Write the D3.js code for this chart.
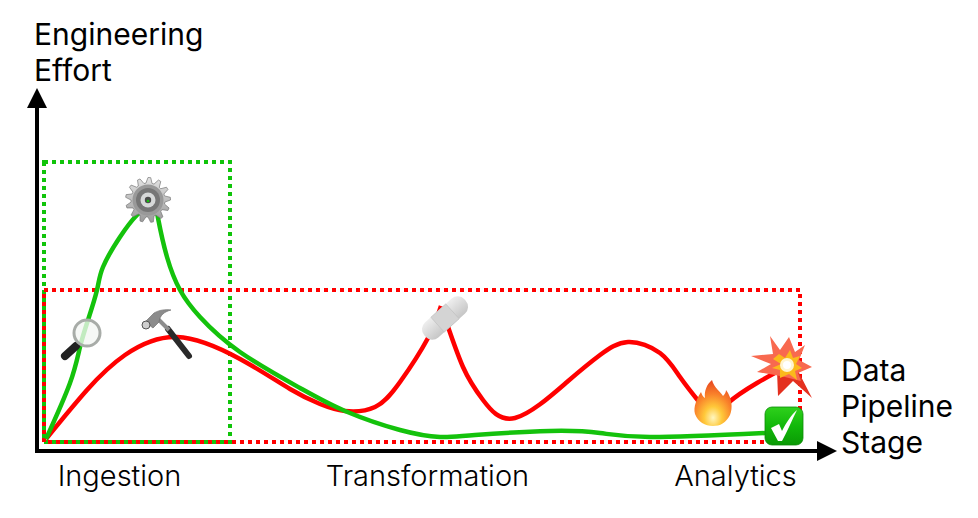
<!DOCTYPE html>
<html>
<head>
<meta charset="utf-8">
<script src="https://cdn.jsdelivr.net/npm/d3@7"></script>
<style>
  html, body { margin: 0; padding: 0; background: #fff; }
  svg { display: block; }
  text { font-family: Inter, Lato, sans-serif; fill: #000; }
</style>
</head>
<body>
<div id="plot"></div>
<script>
// pipeline stages along the bottom
const stages = ["Ingestion", "Transformation", "Analytics"];

// red curve. it has sharp corners under the bandage and the fire
// so it is kept in three pieces
const redStageA = [9, 50, 88, 140, 203, 253, 283, 308, 338, 363, 391, 404];
const redEffortA = [12, 61, 96, 114, 92, 62, 47, 40, 44, 69, 113, 145];
const redStageB = [406, 426, 446, 478, 530, 563, 591, 623, 643, 663, 677];
const redEffortB = [139, 84, 51, 33, 69, 96, 109, 98, 74, 48, 31];
const redStageC = [677, 691, 720, 753];
const redEffortC = [31, 48, 68, 86];

// green curve, same idea with the corner under the gear
const greenStageA = [9, 33, 43, 51, 60, 66, 83, 100, 113];
const greenEffortA = [12, 68, 104, 131, 161, 184, 214, 236, 246];
const greenStageB = [116, 121, 130, 143, 163, 203, 263, 308, 363, 403, 438, 513, 563, 613, 728];
const greenEffortB = [262, 233, 194, 161, 134, 99, 63, 40, 21, 14, 16, 20, 18, 14, 18];

// dotted boxes [x0, x1, y0, y1]
const greenBox = [7, 193, 9, 289];
const redBox = [7, 763, 9, 161];

// where the icons sit on the curves
const iconNames = ["lens", "gear", "hammer", "bandage", "fire", "boom", "check"];
const iconStage = [50, 111, 125, 408, 676, 750, 747];
const iconEffort = [118, 251, 112, 133, 47, 84, 25];

const w = 978;
const h = 518;

const svg = d3.select("#plot")
    .append("svg")
    .attr("width", w)
    .attr("height", h);

const xScale = d3.scaleLinear().domain([0, 800]).range([37, 837]);
const yScale = d3.scaleLinear().domain([0, 400]).range([451, 51]);
const stageScale = d3.scalePoint().domain(stages).range([119, 735]);

const defs = svg.append("defs");

function gradient(id, stops, radial) {
  const g = defs.append(radial ? "radialGradient" : "linearGradient").attr("id", id);
  if (!radial) g.attr("x1", 0).attr("y1", 0).attr("x2", 0).attr("y2", 1);
  stops.forEach(s => g.append("stop").attr("offset", s[0]).attr("stop-color", s[1]));
}
gradient("fireGrad", [[0, "#fff6c0"], [0.3, "#ffc93a"], [0.65, "#f9802a"], [1, "#e8471f"]], true);
defs.select("#fireGrad").attr("cx", 0.5).attr("cy", 0.82).attr("r", 0.8);
gradient("checkGrad", [[0, "#2fd11c"], [0.5, "#12b80a"], [1, "#0a9a05"]]);
gradient("bandGrad", [[0, "#eeeeee"], [1, "#c6c6c6"]]);
gradient("gearGrad", [[0, "#e4e4e4"], [1, "#9a9a9a"]]);

// dotted boxes
function box(b, color) {
  svg.append("rect")
      .attr("x", xScale(b[0]))
      .attr("y", yScale(b[3]))
      .attr("width", xScale(b[1]) - xScale(b[0]))
      .attr("height", yScale(b[2]) - yScale(b[3]))
      .attr("fill", "none")
      .attr("stroke", color)
      .attr("stroke-width", 4)
      .attr("stroke-dasharray", "4 4");
}
box(greenBox, "#10c40a");
box(redBox, "#ff0000");

// curves
const curve = d3.line()
    .x(d => xScale(d[0]))
    .y(d => yScale(d[1]))
    .curve(d3.curveNatural);

function piece(xs, ys, color) {
  svg.append("path")
      .attr("d", curve(d3.zip(xs, ys)))
      .attr("fill", "none")
      .attr("stroke", color)
      .attr("stroke-width", 4.5);
}
piece(redStageA, redEffortA, "#ff0000");
piece(redStageB, redEffortB, "#ff0000");
piece(redStageC, redEffortC, "#ff0000");
piece(greenStageA, greenEffortA, "#14c20c");
piece(greenStageB, greenEffortB, "#14c20c");

// axis lines with arrow heads
svg.append("line")
    .attr("x1", xScale(0)).attr("y1", yScale(0))
    .attr("x2", xScale(0)).attr("y2", yScale(345))
    .attr("stroke", "#000").attr("stroke-width", 4);
svg.append("line")
    .attr("x1", xScale(0) - 2).attr("y1", yScale(0))
    .attr("x2", xScale(782)).attr("y2", yScale(0))
    .attr("stroke", "#000").attr("stroke-width", 4);
svg.append("path")
    .attr("transform", `translate(${xScale(0)},${yScale(363)})`)
    .attr("d", "M0,0L10,20L-10,20Z");
svg.append("path")
    .attr("transform", `translate(${xScale(800)},${yScale(0)})`)
    .attr("d", "M0,0L-20,10L-20,-10Z");

// stage labels through a real axis
const xAxis = d3.axisBottom(stageScale).tickSize(0).tickPadding(0);
const axisG = svg.append("g")
    .attr("transform", `translate(0, 463)`)
    .call(xAxis);
axisG.select(".domain").remove();
axisG.selectAll("text")
    .attr("dy", "0.8em")
    .style("font-family", "Inter, Lato, sans-serif")
    .style("font-weight", 300)
    .style("font-size", "29px");

// axis titles
function title(lines, x, y) {
  svg.append("text")
      .attr("font-size", 30)
      .attr("font-weight", 400)
    .selectAll("tspan")
    .data(lines)
    .join("tspan")
      .attr("x", x)
      .attr("y", (d, i) => y + i * 36)
      .text(d => d);
}
title(["Engineering", "Effort"], 34, 45);
title(["Data", "Pipeline", "Stage"], 841, 381);

// icons
const drawIcon = {
  lens(g) {
    g.append("line").attr("x1", -11).attr("y1", 13).attr("x2", -22).attr("y2", 23)
        .attr("stroke", "#222").attr("stroke-width", 8).attr("stroke-linecap", "round");
    g.append("circle").attr("r", 13).attr("fill", "#f4f6f4").attr("fill-opacity", 0.78)
        .attr("stroke", "#a8aca8").attr("stroke-width", 3);
  },
  gear(g) {
    const teeth = 13;
    const pts = d3.range(teeth * 4).map(i => {
      const a = i / (teeth * 4) * 2 * Math.PI;
      const r = (i % 4 === 0 || i % 4 === 1) ? 22.5 : 17;
      return [a, r];
    });
    g.append("path")
        .attr("d", d3.lineRadial().curve(d3.curveLinearClosed)(pts))
        .attr("fill", "url(#gearGrad)").attr("stroke", "#777").attr("stroke-width", 0.7);
    g.append("circle").attr("r", 15.5).attr("fill", "#999");
    g.append("circle").attr("r", 12).attr("fill", "#767676");
    g.append("circle").attr("r", 7.5).attr("fill", "#d6d8d8");
    g.append("circle").attr("r", 3.2).attr("fill", "#4c4c4c");
    g.append("circle").attr("cx", 0).attr("cy", 1).attr("r", 1.3).attr("fill", "#14c20c");
  },
  hammer(g) {
    g.append("line").attr("x1", 6).attr("y1", -10).attr("x2", 27).attr("y2", 17)
        .attr("stroke", "#2a2a2a").attr("stroke-width", 6).attr("stroke-linecap", "round");
    g.append("line").attr("x1", -4).attr("y1", -20).attr("x2", 7).attr("y2", -9)
        .attr("stroke", "#8d8d8d").attr("stroke-width", 4);
    g.append("path")
        .attr("d", "M-17,-17L-8,-26C-3,-29 4,-30 9,-29C2,-27 -2,-24 -3,-17L-9,-11Z")
        .attr("fill", "#8c8c8c").attr("stroke", "#666").attr("stroke-width", 0.6);
    g.append("circle").attr("cx", -16).attr("cy", -14).attr("r", 4)
        .attr("fill", "#cfcfcf").attr("stroke", "#555").attr("stroke-width", 1);
  },
  bandage(g) {
    const b = g.append("g").attr("transform", "rotate(-42)");
    b.append("rect").attr("x", -27).attr("y", -10).attr("width", 54).attr("height", 20).attr("rx", 9)
        .attr("fill", "url(#bandGrad)");
    b.append("rect").attr("x", -10).attr("y", -10).attr("width", 20).attr("height", 20)
        .attr("fill", "#d4d4d4").attr("stroke", "#bdbdbd").attr("stroke-width", 0.6);
  },
  fire(g) {
    g.append("path")
        .attr("d", "M-1,-24C1,-16 8,-12 10,-8C12,-10 13,-12 13,-14C19,-6 20,4 17,11C13,19 7,22 0,22C-8,22 -15,18 -18,10C-20,3 -16,-6 -12,-12C-11,-9 -10,-7 -8,-6C-9,-13 -6,-20 -1,-24Z")
        .attr("fill", "url(#fireGrad)");
  },
  boom(g) {
    const dark = [[8, -2], [25, 31], [6, 14], [-9, 29], [-10, 4]];
    const outer = [[-17, -31], [-7, -17], [2, -30], [8, -15], [18, -22], [12, -7], [25, 0], [11, 6], [14, 14], [-2, 10], [-12, 8], [-30, 5], [-16, -3], [-36, -11], [-14, -13]];
    const inner = [[-8, -13], [-2, -9], [3, -17], [6, -9], [13, -11], [9, -3], [15, 1], [8, 4], [10, 13], [2, 7], [-7, 11], [-7, 3], [-15, 1], [-6, -3], [-14, -8]];
    const line = d3.line().curve(d3.curveLinearClosed);
    g.append("path").attr("d", line(dark)).attr("fill", "#e4301f");
    g.append("path").attr("d", line(outer)).attr("fill", "#f8694f");
    g.append("path").attr("d", line(inner)).attr("fill", "#fbb91c");
    g.append("circle").attr("cx", 0).attr("cy", -2).attr("r", 7).attr("fill", "#fff4cf");
    g.append("circle").attr("cx", 0).attr("cy", -2).attr("r", 4).attr("fill", "#fff");
  },
  check(g) {
    g.append("rect").attr("x", -19).attr("y", -19).attr("width", 38).attr("height", 38).attr("rx", 7)
        .attr("fill", "url(#checkGrad)").attr("stroke", "#0c8a08").attr("stroke-width", 0.8);
    g.append("path").attr("d", "M-13,2L-5,-2L-2,5C2,-3 7,-11 13,-16C8,-6 3,6 -2,15L-6,15Z")
        .attr("fill", "#fff");
  }
};

iconNames.forEach((name, i) => {
  const g = svg.append("g")
      .attr("class", "icon-" + name)
      .attr("transform", `translate(${xScale(iconStage[i])},${yScale(iconEffort[i])})`);
  drawIcon[name](g);
});
</script>
</body>
</html>
